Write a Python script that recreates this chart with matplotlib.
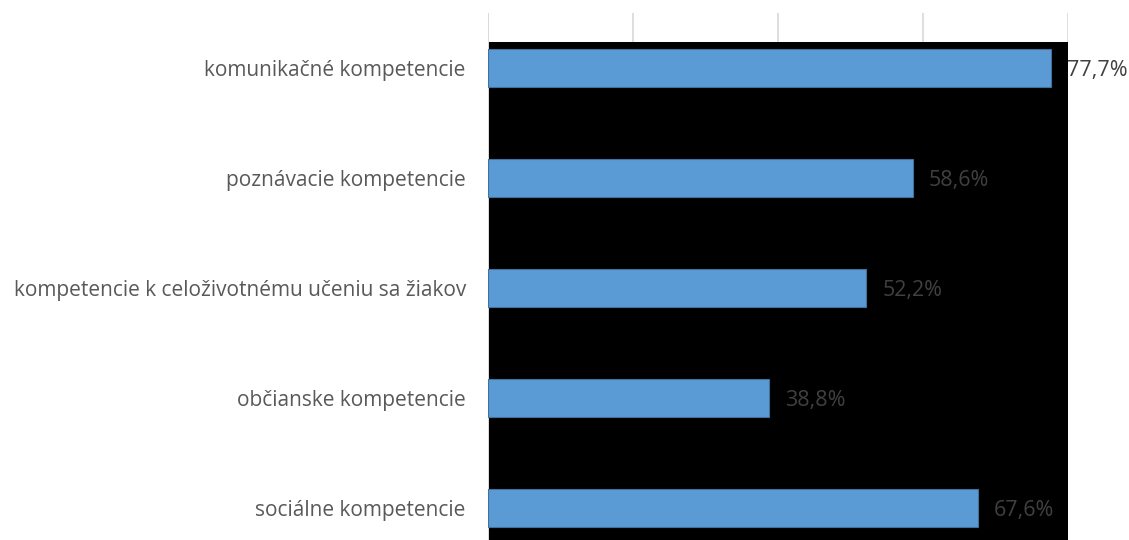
import matplotlib
matplotlib.use("Agg")
import matplotlib.pyplot as plt
from matplotlib.patches import Rectangle

categories = ["komunikačné kompetencie", "poznávacie kompetencie",
              "kompetencie k celoživotnému učeniu sa žiakov",
              "občianske kompetencie", "sociálne kompetencie"]
values = [0.777, 0.586, 0.522, 0.388, 0.676]
labels = ["77,7%", "58,6%", "52,2%", "38,8%", "67,6%"]

plt.rcParams['font.family'] = ['Open Sans', 'DejaVu Sans']

W, H = 1129, 540
fig = plt.figure(figsize=(W / 100, H / 100), dpi=100)
# plot area runs past the bottom edge of the picture (cropped as in the original)
ax = fig.add_axes([488 / W, (H - 563) / H, (1068 - 488) / W, 550 / H])
ax.set_axisbelow(True)

y = list(range(len(categories)))
ax.set_xlim(0, 0.8)
ax.set_ylim(len(categories) - 0.5, -0.5)

ax.set_xticks([0, 0.2, 0.4, 0.6, 0.8])
ax.xaxis.grid(True, color="#d9d9d9", linewidth=1.2)
ax.tick_params(axis="x", length=0, labelbottom=False)
ax.tick_params(axis="y", length=0, pad=16, labelsize=15, labelcolor="#595959")

# black block covering the lower part of the plot area
top = -0.5 + 29 / 110
ax.add_patch(Rectangle((0.0015, top), 0.8, len(categories) - 0.5 - top,
                       facecolor="black", edgecolor="none", zorder=1))

ax.barh(y, values, height=0.35, color="#5b9bd5", edgecolor="#41719c",
        linewidth=0.8, zorder=3)
ax.axvline(0, color="#d9d9d9", linewidth=1.2, zorder=2)

for yi, v, lab in zip(y, values, labels):
    ax.text(v + 0.022, yi + 0.02, lab, va="center", ha="left", fontsize=15.5,
            color="#404040", zorder=4, clip_on=False)

ax.set_yticks(y)
ax.set_yticklabels(categories)
for s in ax.spines.values():
    s.set_visible(False)

fig.savefig("out.png", dpi=100)
